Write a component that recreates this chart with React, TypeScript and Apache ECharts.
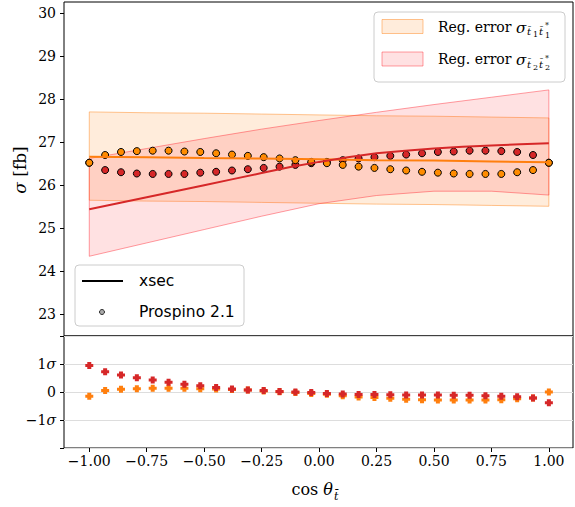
import React, { useEffect, useRef } from "react";
import * as echarts from "echarts";

// Prospino points (cos theta positions)
const cosPoints = [
  -1.0, -0.931, -0.862, -0.793, -0.724, -0.655, -0.586, -0.517, -0.448, -0.379,
  -0.31, -0.241, -0.172, -0.103, -0.034, 0.034, 0.103, 0.172, 0.241, 0.31,
  0.379, 0.448, 0.517, 0.586, 0.655, 0.724, 0.793, 0.862, 0.931, 1.0,
];
const prospinoOrange = [
  26.52, 26.7, 26.77, 26.79, 26.8, 26.8, 26.78, 26.77, 26.74, 26.71,
  26.68, 26.65, 26.62, 26.58, 26.54, 26.51, 26.47, 26.43, 26.4, 26.37,
  26.34, 26.31, 26.29, 26.27, 26.26, 26.26, 26.26, 26.3, 26.35, 26.52,
];
const prospinoRed = [
  26.52, 26.35, 26.3, 26.27, 26.26, 26.26, 26.26, 26.29, 26.31, 26.34,
  26.37, 26.4, 26.43, 26.47, 26.51, 26.54, 26.58, 26.62, 26.65, 26.68,
  26.71, 26.74, 26.77, 26.78, 26.8, 26.8, 26.79, 26.77, 26.7, 26.52,
];
const pullOrange = [
  -0.15, 0.05, 0.1, 0.12, 0.13, 0.13, 0.13, 0.12, 0.11, 0.09,
  0.07, 0.04, 0.01, -0.02, -0.05, -0.08, -0.13, -0.18, -0.2, -0.22,
  -0.26, -0.28, -0.29, -0.29, -0.29, -0.29, -0.28, -0.24, -0.21, 0.0,
];
const pullRed = [
  0.95, 0.72, 0.61, 0.51, 0.43, 0.35, 0.28, 0.22, 0.16, 0.11,
  0.07, 0.05, 0.02, 0.0, -0.02, -0.05, -0.07, -0.09, -0.09, -0.1,
  -0.11, -0.11, -0.11, -0.12, -0.12, -0.13, -0.15, -0.17, -0.21, -0.38,
];

// curves and bands
const curveX = [-1, -0.75, -0.5, -0.25, 0, 0.25, 0.5, 0.75, 1];
const xsecOrange = [26.66, 26.65, 26.63, 26.62, 26.6, 26.58, 26.57, 26.55, 26.53];
const orangeUpper = [27.7, 27.68, 27.67, 27.65, 27.63, 27.61, 27.6, 27.58, 27.56];
const orangeLower = [25.65, 25.63, 25.62, 25.6, 25.58, 25.56, 25.55, 25.53, 25.51];
const redUpper = [26.62, 26.85, 27.08, 27.3, 27.5, 27.69, 27.87, 28.04, 28.21];
const redLower = [24.35, 24.66, 24.97, 25.28, 25.57, 25.76, 25.86, 25.86, 25.77];

const redCurveX = [
  -1, -0.875, -0.75, -0.625, -0.5, -0.375, -0.25, -0.125, 0,
  0.125, 0.25, 0.375, 0.5, 0.625, 0.75, 0.875, 1,
];
const xsecRed = [
  25.44, 25.58, 25.72, 25.86, 26.0, 26.14, 26.28, 26.42, 26.54,
  26.65, 26.74, 26.8, 26.85, 26.89, 26.92, 26.95, 26.97,
];

const xTicks = [-1, -0.75, -0.5, -0.25, 0, 0.25, 0.5, 0.75, 1];
const yTicksTop = [23, 24, 25, 26, 27, 28, 29, 30];

const ORANGE = "#ff7f0e";
const ORANGE_PT = "#ff8c00";
const RED = "#d62728";
const ORANGE_FILL = "rgba(255,127,14,0.15)";
const ORANGE_EDGE = "rgba(255,127,14,0.45)";
const RED_FILL = "rgba(255,40,50,0.14)";
const RED_EDGE = "rgba(255,40,50,0.45)";
const SERIF = "DejaVu Serif";
const SANS = "DejaVu Sans";

const pair = (xs: number[], ys: number[]) => xs.map((x, i) => [x, ys[i]]);

const bandSeries = (upper: number[], lower: number[], fill: string, edge: string) => ({
  type: "custom",
  xAxisIndex: 0,
  yAxisIndex: 0,
  data: [[0, 26]],
  silent: true,
  renderItem: (_p: any, api: any) => {
    const pts: number[][] = [];
    for (let i = 0; i < curveX.length; i++) pts.push(api.coord([curveX[i], upper[i]]));
    for (let i = curveX.length - 1; i >= 0; i--) pts.push(api.coord([curveX[i], lower[i]]));
    return {
      type: "polygon",
      shape: { points: pts },
      style: { fill, stroke: edge, lineWidth: 1 },
    };
  },
});

const PLUS = "path://M2,0L6,0L6,2L8,2L8,5L6,5L6,7L2,7L2,5L0,5L0,2L2,2Z";

const fmtX = (v: number) => v.toFixed(2).replace("-", "\u2212");

export default function App() {
  const ref = useRef<HTMLDivElement>(null);
  useEffect(() => {
    if (!ref.current) return;
    const chart = echarts.init(ref.current, null, { renderer: "svg" });
    const L = 64, R = 2;
    const labelStyle = { color: "#000", fontFamily: SERIF, fontSize: 14 };
    const noLine = { show: false, onZero: false };
    const option: any = {
      animation: false,
      backgroundColor: "#fff",
      grid: [
        { left: L, right: R, top: 2, height: 334, show: true, borderColor: "#000", borderWidth: 1 },
        { left: L, right: R, top: 336, height: 112, show: true, borderColor: "#000", borderWidth: 1 },
      ],
      xAxis: [
        {
          type: "value", gridIndex: 0, min: -1.11, max: 1.105, position: "bottom",
          axisLine: noLine, axisTick: { show: false }, axisLabel: { show: false },
          splitLine: { show: false },
        },
        {
          type: "value", gridIndex: 1, min: -1.11, max: 1.105, position: "bottom",
          axisLine: noLine,
          axisTick: { show: true, length: 4, lineStyle: { color: "#000" }, customValues: xTicks },
          axisLabel: { ...labelStyle, margin: 6, customValues: xTicks, formatter: fmtX },
          splitLine: { show: false },
        },
      ],
      yAxis: [
        {
          type: "value", gridIndex: 0, min: 22.5, max: 30.25, position: "left",
          axisLine: noLine,
          axisTick: { show: true, length: 4, lineStyle: { color: "#000" }, customValues: yTicksTop },
          axisLabel: { ...labelStyle, margin: 8, customValues: yTicksTop, formatter: (v: number) => String(v) },
          splitLine: { show: false },
        },
        {
          type: "value", gridIndex: 1, min: -2, max: 2, interval: 1, position: "left",
          axisLine: noLine,
          axisTick: { show: true, length: 4, lineStyle: { color: "#000" } },
          axisLabel: {
            ...labelStyle, margin: 8,
            formatter: (v: number) =>
              v === 1 ? "{n|1}{s|σ}" : v === 0 ? "{n|0}" : v === -1 ? "{n|\u22121}{s|σ}" : "",
            rich: {
              n: { fontFamily: SERIF, fontSize: 14, color: "#000" },
              s: { fontFamily: SERIF, fontSize: 14, fontStyle: "italic", color: "#000" },
            },
          },
          splitLine: { show: true, lineStyle: { color: "#dddddd", width: 1 } },
        },
      ],
      series: [
        bandSeries(orangeUpper, orangeLower, ORANGE_FILL, ORANGE_EDGE),
        bandSeries(redUpper, redLower, RED_FILL, RED_EDGE),
        {
          type: "line", xAxisIndex: 0, yAxisIndex: 0, data: pair(curveX, xsecOrange),
          showSymbol: false, lineStyle: { color: ORANGE, width: 2 }, silent: true,
        },
        {
          type: "line", xAxisIndex: 0, yAxisIndex: 0, data: pair(redCurveX, xsecRed),
          showSymbol: false, lineStyle: { color: RED, width: 2 }, silent: true,
        },
        {
          type: "scatter", xAxisIndex: 0, yAxisIndex: 0, data: pair(cosPoints, prospinoRed),
          symbol: "circle", symbolSize: 7,
          itemStyle: { color: RED, borderColor: "#000", borderWidth: 1, opacity: 1 },
        },
        {
          type: "scatter", xAxisIndex: 0, yAxisIndex: 0, data: pair(cosPoints, prospinoOrange),
          symbol: "circle", symbolSize: 7,
          itemStyle: { color: ORANGE_PT, borderColor: "#000", borderWidth: 1, opacity: 1 },
        },
        {
          type: "scatter", xAxisIndex: 1, yAxisIndex: 1, data: pair(cosPoints, pullOrange),
          symbol: PLUS, symbolSize: [8, 7], itemStyle: { color: ORANGE, opacity: 1 },
        },
        {
          type: "scatter", xAxisIndex: 1, yAxisIndex: 1, data: pair(cosPoints, pullRed),
          symbol: PLUS, symbolSize: [8, 7], itemStyle: { color: RED, opacity: 1 },
        },
      ],
      graphic: [
        // upper legend
        {
          type: "rect", z: 100, shape: { x: 374, y: 12, width: 191, height: 70, r: 4 },
          style: { fill: "rgba(255,255,255,0.85)", stroke: "#cccccc", lineWidth: 1 },
        },
        {
          type: "rect", z: 101, shape: { x: 382, y: 19.5, width: 41, height: 14 },
          style: { fill: ORANGE_FILL, stroke: ORANGE_EDGE, lineWidth: 1 },
        },
        {
          type: "rect", z: 101, shape: { x: 382, y: 52, width: 41, height: 14 },
          style: { fill: RED_FILL, stroke: RED_EDGE, lineWidth: 1 },
        },
        ...[26.5, 59].flatMap((cy, idx) => [
          {
            type: "text", z: 101, x: 438, y: cy,
            style: { text: "Reg. error", fontFamily: SERIF, fontSize: 14, fill: "#000", verticalAlign: "middle" },
          },
          {
            type: "text", z: 101, x: 516, y: cy + 1,
            style: { text: "σ", fontFamily: SERIF, fontSize: 15, fontStyle: "italic", fill: "#000", verticalAlign: "middle" },
          },
          {
            type: "text", z: 101, x: 527, y: cy + 5,
            style: { text: "t\u0304", fontFamily: SERIF, fontSize: 10, fontStyle: "italic", fill: "#000", verticalAlign: "middle" },
          },
          {
            type: "text", z: 101, x: 533, y: cy + 8,
            style: { text: String(idx + 1), fontFamily: SERIF, fontSize: 8, fill: "#000", verticalAlign: "middle" },
          },
          {
            type: "text", z: 101, x: 539, y: cy + 5,
            style: { text: "t\u0304", fontFamily: SERIF, fontSize: 10, fontStyle: "italic", fill: "#000", verticalAlign: "middle" },
          },
          {
            type: "text", z: 101, x: 545, y: cy - 1,
            style: { text: "*", fontFamily: SERIF, fontSize: 8, lineHeight: 8, fill: "#000", verticalAlign: "middle" },
          },
          {
            type: "text", z: 101, x: 545, y: cy + 8.5,
            style: { text: String(idx + 1), fontFamily: SERIF, fontSize: 8, lineHeight: 8, fill: "#000", verticalAlign: "middle" },
          },
        ]),
        // lower legend
        {
          type: "rect", z: 100, shape: { x: 75, y: 265, width: 169, height: 61, r: 4 },
          style: { fill: "rgba(255,255,255,0.85)", stroke: "#cccccc", lineWidth: 1 },
        },
        {
          type: "line", z: 101, shape: { x1: 82, y1: 281, x2: 123, y2: 281 },
          style: { stroke: "#000", lineWidth: 2 },
        },
        {
          type: "text", z: 101, x: 139, y: 281,
          style: { text: "xsec", fontFamily: SANS, fontSize: 15.5, fill: "#000", verticalAlign: "middle" },
        },
        {
          type: "circle", z: 101, shape: { cx: 102, cy: 312, r: 2.5 },
          style: { fill: "#aaaaaa", stroke: "#000", lineWidth: 0.8 },
        },
        {
          type: "text", z: 101, x: 139, y: 312,
          style: { text: "Prospino 2.1", fontFamily: SANS, fontSize: 15.5, fill: "#000", verticalAlign: "middle" },
        },
        // axis titles
        {
          type: "text", x: 20, y: 170, rotation: Math.PI / 2,
          style: {
            text: "{s|σ} [fb]", align: "center", verticalAlign: "middle",
            fontFamily: SERIF, fontSize: 17, fill: "#000",
            rich: { s: { fontFamily: SERIF, fontSize: 17, fontStyle: "italic", fill: "#000" } },
          },
        },
        {
          type: "text", x: 333, y: 489,
          style: {
            text: "cos {t|θ}", align: "right", verticalAlign: "middle",
            fontFamily: SERIF, fontSize: 16, fill: "#000",
            rich: { t: { fontFamily: SERIF, fontSize: 16, fontStyle: "italic", fill: "#000" } },
          },
        },
        {
          type: "text", x: 334, y: 496,
          style: { text: "t\u0304", fontFamily: SERIF, fontSize: 11, fontStyle: "italic", fill: "#000", verticalAlign: "middle" },
        },
      ],
    };
    chart.setOption(option);
    return () => chart.dispose();
  }, []);
  return (
    <div
      ref={ref}
      style={{ position: "fixed", left: 0, top: 0, width: 575, height: 507 }}
    />
  );
}
